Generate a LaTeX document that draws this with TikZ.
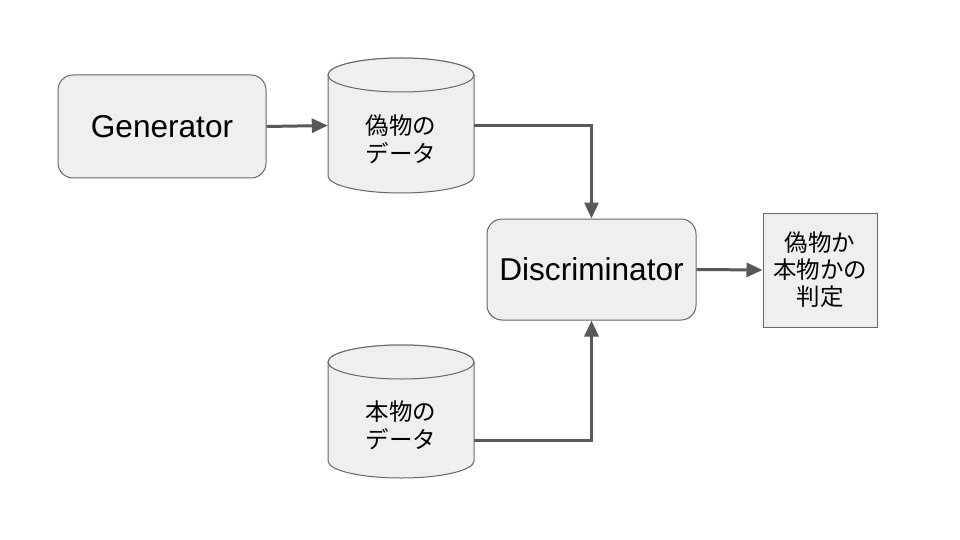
\documentclass[tikz,border=0pt]{standalone}
\usepackage{fontspec}
\setmainfont{Liberation Sans}
\newfontfamily\jp{Noto Sans CJK JP}
\usetikzlibrary{arrows.meta}
\definecolor{boxfill}{HTML}{EFEFEF}
\definecolor{boxline}{HTML}{666666}
\definecolor{arrowc}{HTML}{595959}
\begin{document}
\begin{tikzpicture}[x=1pt,y=1pt,
  rbox/.style={draw=boxline, fill=boxfill, rounded corners=15pt, line width=1pt, inner sep=0pt, font=\fontsize{31.6}{36}\selectfont},
  sbox/.style={draw=boxline, fill=boxfill, line width=1pt, inner sep=0pt, align=center, font=\jp\fontsize{23.5}{27}\selectfont},
  cylarea/.style={draw=none, inner sep=0pt},
  cyl/.style={draw=boxline, fill=boxfill, line width=1pt},
  jtext/.style={align=center, inner sep=0pt, font=\jp\fontsize{23.5}{28}\selectfont},
  conn/.style={draw=arrowc, line width=3pt, -{Triangle[length=16pt,width=14pt]}}]
\useasboundingbox[fill=white] (0,0) rectangle (960,-540);

% cylinders (shapes)
\filldraw[cyl] (328,-75) -- (328,-176) arc[start angle=180,end angle=360,x radius=73pt,y radius=17pt] -- (474,-75) arc[start angle=0,end angle=180,x radius=73pt,y radius=17pt] -- cycle;
\draw[cyl] (401,-75) ellipse [x radius=73pt, y radius=17pt];
\filldraw[cyl] (328,-362) -- (328,-461) arc[start angle=180,end angle=360,x radius=73pt,y radius=17pt] -- (474,-362) arc[start angle=0,end angle=180,x radius=73pt,y radius=17pt] -- cycle;
\draw[cyl] (401,-362) ellipse [x radius=73pt, y radius=17pt];

% nodes
\node[rbox, minimum width=208pt, minimum height=103pt] (gen) at (162,-126.5) {Generator};
\node[cylarea, minimum width=146pt, minimum height=135pt] (fake) at (401,-125.5) {};
\node[jtext] (fakelbl) at (401,-139.5) {偽物の\\データ};
\node[cylarea, minimum width=146pt, minimum height=133pt] (real) at (401,-411.5) {};
\node[jtext] (reallbl) at (401,-425) {本物の\\データ};
\node[rbox, minimum width=209pt, minimum height=101pt] (disc) at (591.5,-269.5) {Discriminator};
\node[sbox, minimum width=114pt, minimum height=114pt] (verdict) at (820,-270) {偽物か\\本物かの\\判定};

% connectors
\draw[conn] (gen.east) -- (fake.west);
\draw[conn] (fake.east) -| (disc.north);
\draw[conn] ([yshift=-28.5pt]real.east) -| (disc.south);
\draw[conn] (disc.east) -- (verdict.west);
\end{tikzpicture}
\end{document}
